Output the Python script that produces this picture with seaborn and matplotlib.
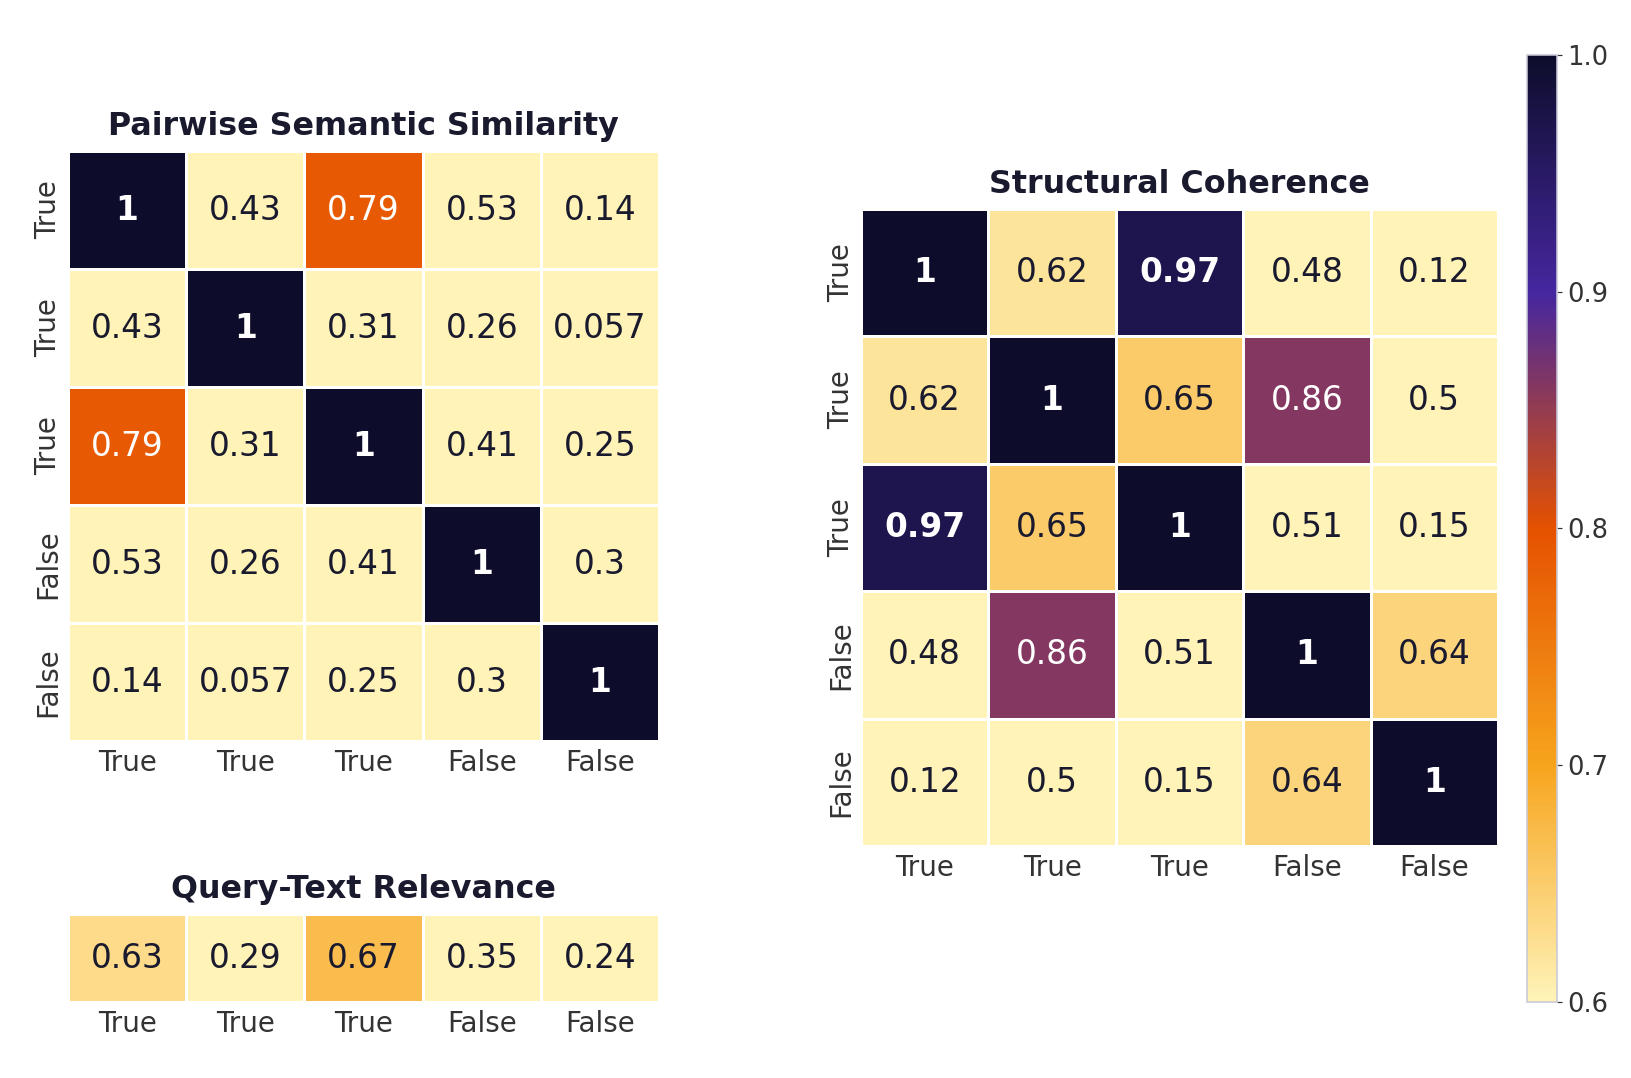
import matplotlib
matplotlib.use("Agg")
import matplotlib.pyplot as plt
from matplotlib.colors import LinearSegmentedColormap
import numpy as np
import seaborn as sns

# ---- data ----
labels = ["True", "True", "True", "False", "False"]

pairwise = [
    [1.0, 0.43, 0.79, 0.53, 0.14],
    [0.43, 1.0, 0.31, 0.26, 0.057],
    [0.79, 0.31, 1.0, 0.41, 0.25],
    [0.53, 0.26, 0.41, 1.0, 0.3],
    [0.14, 0.057, 0.25, 0.3, 1.0],
]

query_rel = [[0.63, 0.29, 0.67, 0.35, 0.24]]

structural = [
    [1.0, 0.62, 0.97, 0.48, 0.12],
    [0.62, 1.0, 0.65, 0.86, 0.5],
    [0.97, 0.65, 1.0, 0.51, 0.15],
    [0.48, 0.86, 0.51, 1.0, 0.64],
    [0.12, 0.5, 0.15, 0.64, 1.0],
]

titles = ["Pairwise Semantic Similarity", "Query-Text Relevance", "Structural Coherence"]
cbar_ticks = [0.6, 0.7, 0.8, 0.9, 1.0]

# ---- style ----
sns.set_theme(style="white")
plt.rcParams["font.family"] = ["DejaVu Sans"]

DPI = 143
TITLE_C = "#1a1a2e"
TEXT_DARK = "#1a1a2e"
TICK_C = "#333333"

cmap = LinearSegmentedColormap.from_list(
    "custom", ["#fff3b8", "#f7a41d", "#e55100", "#4527a0", "#0d0d2b"]
)

fig = plt.figure(figsize=(1631 / DPI, 1078 / DPI), dpi=DPI)
ax1 = fig.add_axes([0.0417, 0.3126, 0.3624, 0.5473])
ax2 = fig.add_axes([0.0417, 0.0705, 0.3624, 0.0816])
ax3 = fig.add_axes([0.5279, 0.2152, 0.3906, 0.591])
cax = fig.add_axes([0.9363, 0.0705, 0.0184, 0.8785])

common = dict(cmap=cmap, vmin=0.6, vmax=1.0, annot=True, fmt=".2g",
              linewidths=1.3, linecolor="white", annot_kws={"size": 16.5})

sns.heatmap(np.array(pairwise), ax=ax1, cbar=False,
            xticklabels=labels, yticklabels=labels, **common)
sns.heatmap(np.array(query_rel), ax=ax2, cbar=False,
            xticklabels=labels, yticklabels=False, **common)
sns.heatmap(np.array(structural), ax=ax3, cbar=True, cbar_ax=cax,
            xticklabels=labels, yticklabels=labels, **common)

for ax, t in zip([ax1, ax2, ax3], titles):
    ax.set_title(t, fontsize=16, fontweight="bold", color=TITLE_C, pad=8)
    ax.tick_params(axis="both", length=0, labelsize=14, colors=TICK_C)
    ax.tick_params(axis="x", pad=4)
    ax.tick_params(axis="y", pad=3)
    for lab in ax.get_yticklabels():
        lab.set_rotation(90)
        lab.set_va("center")
    for lab in ax.get_xticklabels():
        lab.set_rotation(0)
    for txt in ax.texts:
        try:
            v = float(txt.get_text())
        except ValueError:
            continue
        col = txt.get_color()
        if col in ("w", "white", (1, 1, 1), (1.0, 1.0, 1.0, 1.0)):
            txt.set_color("white")
        else:
            txt.set_color(TEXT_DARK)
        if v >= 0.95:
            txt.set_fontweight("bold")

cb = ax3.collections[0].colorbar
cb.set_ticks(cbar_ticks)
cb.ax.tick_params(labelsize=13, colors=TICK_C, length=2.5, width=0.6, pad=2.5)
cb.outline.set_edgecolor("#c8c8d8")
cb.outline.set_linewidth(0.8)

fig.savefig("out.png", dpi=DPI)
